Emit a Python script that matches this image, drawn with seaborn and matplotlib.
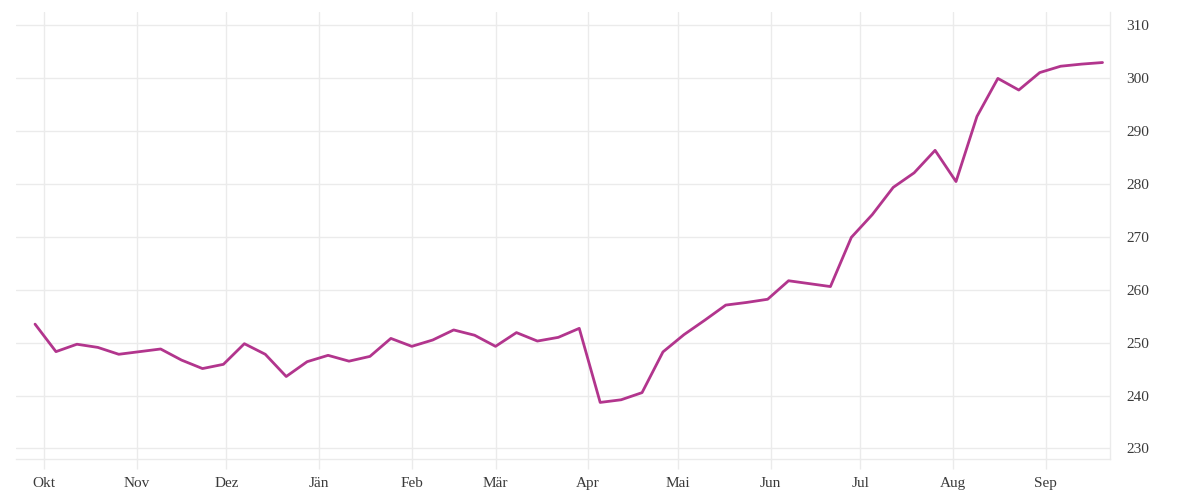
import matplotlib
matplotlib.use('Agg')
import matplotlib.pyplot as plt
import matplotlib.dates as mdates
from matplotlib.ticker import FuncFormatter
import numpy as np
import pandas as pd
import seaborn as sns

# weekly values
start = "2022-09-28"
values = [
    253.5, 248.3, 249.7, 249.1, 247.8, 248.3, 248.8, 246.7, 245.1, 245.9,
    249.8, 247.8, 243.6, 246.4, 247.6, 246.5, 247.4, 250.8, 249.3, 250.5,
    252.4, 251.4, 249.3, 251.9, 250.3, 251.0, 252.7, 238.7, 239.2, 240.55,
    248.25, 251.5, 254.25, 257.1, 257.6, 258.2, 261.7, 261.15, 260.6, 269.9,
    274.2, 279.35, 282.1, 286.35, 280.45, 292.75, 299.95, 297.75, 301.05, 302.25,
    302.65, 302.95,
]
month_names = ["Jän", "Feb", "Mär", "Apr", "Mai", "Jun",
               "Jul", "Aug", "Sep", "Okt", "Nov", "Dez"]
y_ticks = [230, 240, 250, 260, 270, 280, 290, 300, 310]

df = pd.DataFrame({
    "date": pd.date_range(start, periods=len(values), freq="7D"),
    "value": values,
})

sns.set_theme(style="white")
plt.rcParams['font.family'] = ['Liberation Serif', 'DejaVu Serif']

grid_col = "#ebebeb"
fig = plt.figure(figsize=(12, 5), dpi=100)
ax = fig.add_axes([0.013, 0.083, 0.912, 0.893])

sns.lineplot(data=df, x="date", y="value", ax=ax, color="#b2358d", linewidth=2.0)

ax.set_xlim(pd.Timestamp("2022-09-21 12:00"), pd.Timestamp("2023-09-22 12:00"))
ax.set_ylim(228.1, 312.5)

ax.xaxis.set_major_locator(mdates.MonthLocator())
ax.xaxis.set_major_formatter(FuncFormatter(
    lambda x, pos: month_names[mdates.num2date(x).month - 1]))
ax.set_yticks(y_ticks)
ax.yaxis.tick_right()

ax.grid(True, color=grid_col, linewidth=1.0)
ax.set_axisbelow(True)
for side in ["top", "left"]:
    ax.spines[side].set_visible(False)
for side in ["bottom", "right"]:
    ax.spines[side].set_color(grid_col)
    ax.spines[side].set_linewidth(1.0)

ax.tick_params(axis="x", length=7, width=1.0, color=grid_col, pad=6,
               labelsize=11, labelcolor="#3a3a3a", bottom=True)
ax.tick_params(axis="y", length=0, pad=12, labelsize=11,
               labelcolor="#3a3a3a", right=True, left=False)
ax.set_xlabel("")
ax.set_ylabel("")

plt.savefig("out.png", dpi=100)
plt.close()
